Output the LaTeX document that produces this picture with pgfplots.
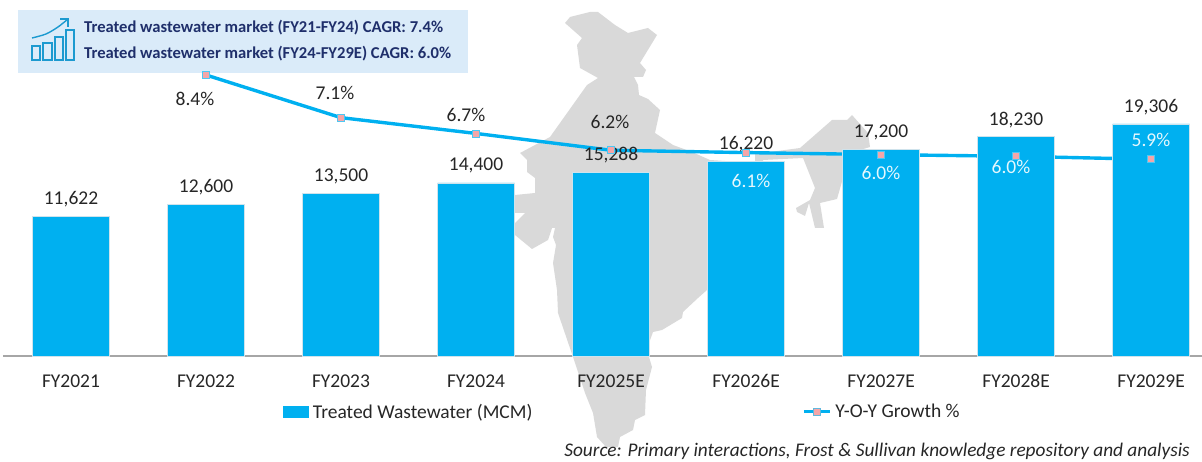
\documentclass[border=0pt]{standalone}
\usepackage{pgfplots}
\pgfplotsset{compat=1.18}
\usepackage{fontspec}
\setmainfont{Carlito}
\definecolor{barblue}{HTML}{00B0F0}
\definecolor{baredge}{HTML}{CFE3EC}
\definecolor{mapgrey}{HTML}{D9D9D9}
\definecolor{boxblue}{HTML}{DAEBF9}
\definecolor{navy}{HTML}{1F2F6B}
\definecolor{iconblue}{HTML}{1C9AD0}
\definecolor{pinkm}{HTML}{F4A6A8}
\definecolor{txt}{HTML}{262626}
\definecolor{baseline}{HTML}{A6A6A6}
\pgfplotstableread{
x value
0 11622
1 12600
2 13500
3 14400
4 15288
5 16220
6 17200
7 18230
8 19306
}\bars
\pgfplotstableread{
x growth
1 8.41
2 7.14
3 6.67
4 6.17
5 6.10
6 6.04
7 5.99
8 5.90
}\growth
\newcommand{\lab}{\fontsize{19.5}{21}\selectfont}
\pgfplotsset{frame/.style={scale only axis,width=1202pt,height=462pt,at={(0pt,0pt)},anchor=south west,hide axis,clip=false,enlargelimits=false},
 pix/.style={frame,xmin=0,xmax=1202,ymin=0,ymax=462,y dir=reverse},
 pct/.style={frame,xmin=-0.52593,xmax=8.37778,ymin=-3.108,ymax=10.642}}
\begin{document}
\begin{tikzpicture}
\path[use as bounding box] (0pt,0pt) rectangle (1202pt,462pt);
\begin{axis}[pix]
\addplot[fill=boxblue,draw=none] coordinates {(18,10)(468,10)(468,73)(18,73)} --cycle;
\addplot[fill=mapgrey,draw=none] coordinates {
(565,23)(570,17)(590,12)(598,12)(615,25)(628,33)(648,28)(657,35)(640,63)(646,70)(643,77)(634,77)(638,85)(639,95)(648,99)(660,110)(655,133)(673,145)(692,152)(710,160)(755,163)(755,154)(800,148)(832,120)(847,120)(852,115)(868,133)(870,147)(860,150)(860,175)(843,178)(837,199)(820,203)(824,228)(815,228)(809,203)(805,216)(797,212)(796,208)(810,200)(815,188)(803,158)(763,160)(763,163)(765,175)(707,290)(698,298)(683,312)(682,318)(662,330)(653,332)(649,343)(649,357)(652,367)(646,390)(645,415)(635,420)(633,430)(620,437)(618,447)(606,447)(597,437)(593,413)(585,393)(573,357)(558,313)(557,290)(553,263)(556,245)(553,237)(555,228)(552,228)(548,240)(532,249)(515,235)(515,223)(525,213)(515,213)(515,195)(535,193)(535,178)(527,172)(527,160)(520,153)(550,137)(587,85)(598,78)(580,68)(577,45)(582,38)} --cycle;
\addplot[draw=iconblue,line width=1.4pt] coordinates {(32,46)(40,46)(40,60)(32,60)} --cycle;
\addplot[draw=iconblue,line width=1.4pt] coordinates {(43,43)(52,43)(52,60)(43,60)} --cycle;
\addplot[draw=iconblue,line width=1.4pt] coordinates {(55,37)(63,37)(63,60)(55,60)} --cycle;
\addplot[draw=iconblue,line width=1.4pt] coordinates {(66,30)(74,30)(74,60)(66,60)} --cycle;
\addplot[draw=iconblue,line width=1.4pt,smooth] coordinates {(32,38)(46,34)(58,27)(68,19)};
\addplot[draw=iconblue,line width=1.4pt] coordinates {(60,19)(68,19)(68,27)};
\end{axis}
\begin{axis}[pct]
\addplot[barblue,line width=3.4pt,no marks] table[x=x,y=growth] {\growth};
\end{axis}
\begin{axis}[scale only axis,width=1199pt,height=356pt,at={(3pt,106pt)},anchor=south west,
  xmin=-0.5037,xmax=8.37778,ymin=0,ymax=29617,enlargelimits=false,clip=false,
  axis y line=none,axis x line=bottom,axis line style={-,draw=baseline,line width=1.4pt},
  major tick length=0pt,xtick={0,...,8},
  xticklabels={FY2021,FY2022,FY2023,FY2024,FY2025E,FY2026E,FY2027E,FY2028E,FY2029E},
  xticklabel style={font=\lab,text=txt,anchor=center,yshift=-25pt},
  /pgf/number format/assume math mode=true,
  /pgf/number format/1000 sep={,},
  legend columns=4,
  legend cell align=left,
  legend style={draw=none,fill=none,inner sep=0pt,font=\lab,text=txt,anchor=west,at={(axis description cs:0.2335,-0.157)},
    /tikz/every odd column/.append style={column sep=2pt}}]
\addplot[ybar,bar width=77pt,fill=barblue,draw=baredge,line width=0.8pt,
   legend image code/.code={\fill[barblue] (0pt,-5.5pt) rectangle (25pt,5.5pt);},
   nodes near coords,
   every node near coord/.append style={font=\lab,text=txt,anchor=center,yshift=17pt}]
   table[x=x,y=value] {\bars};
\addlegendentry{Treated Wastewater (MCM)\rule{268pt}{0pt}}
\addlegendimage{legend image code/.code={\draw[barblue,line width=3pt] (0pt,0pt)--(26pt,0pt);\fill[pinkm,draw=iconblue!70,line width=1pt] (9.5pt,-3.5pt) rectangle (16.5pt,3.5pt);}}
\addlegendentry{Y-O-Y Growth \%}
\end{axis}
\begin{axis}[pct]
\addplot[only marks,mark=square*,mark size=3.5pt,mark options={fill=pinkm,draw=barblue!70!white,line width=0.7pt}] table[x=x,y=growth] {\growth};
\end{axis}
\begin{axis}[pix]
\addplot[draw=none,forget plot] coordinates {(0,0)};
\begin{scope}[every node/.style={font=\lab,text=txt,anchor=center,inner sep=0pt}]
\node at (axis cs:195,99) {8.4\%};
\node at (axis cs:335,93) {7.1\%};
\node at (axis cs:466,115) {6.7\%};
\node at (axis cs:610,122) {6.2\%};
\node[text=white!90!barblue] at (axis cs:751,181) {6.1\%};
\node[text=white!90!barblue] at (axis cs:881,173) {6.0\%};
\node[text=white!90!barblue] at (axis cs:1011,167) {6.0\%};
\node[text=white!90!barblue] at (axis cs:1151,140) {5.9\%};
\end{scope}
\node[anchor=west,inner sep=0pt,font=\fontsize{16.6}{18}\selectfont\bfseries,text=navy] at (axis cs:84,28) {Treated wastewater market (FY21-FY24) CAGR: 7.4\%};
\node[anchor=west,inner sep=0pt,font=\fontsize{16.6}{18}\selectfont\bfseries,text=navy] at (axis cs:84,54) {Treated wastewater market (FY24-FY29E) CAGR: 6.0\%};
\node[anchor=east,inner sep=0pt,font=\fontsize{19.3}{21}\selectfont\itshape,text=txt] at (axis cs:1190,451) {Source: Primary interactions, Frost \& Sullivan knowledge repository and analysis};
\end{axis}
\end{tikzpicture}
\end{document}
